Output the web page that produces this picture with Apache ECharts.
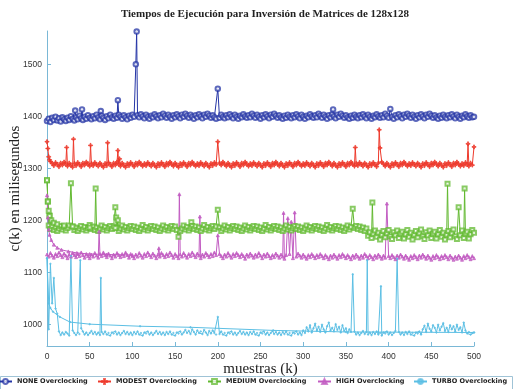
<!DOCTYPE html>
<html>
<head>
<meta charset="utf-8">
<script src="https://cdn.jsdelivr.net/npm/echarts@6/dist/echarts.min.js"></script>
<style>
  html, body { margin: 0; padding: 0; background: #fff; }
  #chart { width: 513px; height: 389px; }
</style>
</head>
<body>
<div id="chart"></div>
<script>
// one value every 2 samples (k = 0, 2, ..., 500), peaks are single extra samples
const STEP = 2
const names = ['NONE Overclocking', 'MODEST Overclocking', 'MEDIUM Overclocking', 'HIGH Overclocking', 'TURBO Overclocking']
const yTicks = [1000, 1100, 1200, 1300, 1400, 1500]

const noneBase = [
  1391, 1395, 1389, 1397, 1393, 1399, 1392, 1396, 1390, 1398,
  1394, 1391, 1397, 1393, 1400, 1395, 1392, 1398, 1394, 1401,
  1396, 1393, 1399, 1395, 1402, 1397, 1394, 1400, 1396, 1403,
  1398, 1394, 1401, 1397, 1393, 1400, 1396, 1403, 1398, 1395,
  1401, 1397, 1403, 1399, 1395, 1402, 1398, 1394, 1401, 1397,
  1403, 1399, 1396, 1402, 1398, 1404, 1400, 1396, 1403, 1399,
  1395, 1401, 1398, 1404, 1400, 1396, 1402, 1398, 1405, 1401,
  1397, 1403, 1399, 1395, 1402, 1398, 1404, 1400, 1396, 1403,
  1399, 1405, 1401, 1397, 1403, 1399, 1395, 1402, 1398, 1404,
  1400, 1396, 1403, 1399, 1405, 1401, 1397, 1402, 1398, 1395,
  1401, 1397, 1403, 1399, 1396, 1402, 1398, 1404, 1400, 1396,
  1403, 1399, 1395, 1401, 1398, 1404, 1400, 1397, 1402, 1398,
  1405, 1401, 1397, 1403, 1399, 1395, 1402, 1398, 1404, 1400,
  1396, 1403, 1399, 1405, 1401, 1397, 1402, 1398, 1395, 1401,
  1397, 1403, 1399, 1396, 1402, 1398, 1404, 1400, 1396, 1403,
  1399, 1395, 1401, 1398, 1404, 1400, 1397, 1402, 1398, 1405,
  1401, 1397, 1403, 1399, 1395, 1402, 1398, 1404, 1400, 1396,
  1403, 1399, 1405, 1401, 1397, 1402, 1398, 1395, 1401, 1397,
  1403, 1399, 1396, 1402, 1398, 1404, 1400, 1396, 1403, 1399,
  1395, 1401, 1398, 1404, 1400, 1397, 1402, 1398, 1405, 1401,
  1397, 1403, 1399, 1395, 1402, 1398, 1404, 1400, 1396, 1403,
  1399, 1405, 1401, 1397, 1403, 1399, 1395, 1402, 1398, 1404,
  1400, 1396, 1403, 1399, 1405, 1401, 1397, 1402, 1398, 1395,
  1401, 1397, 1403, 1399, 1396, 1402, 1398, 1404, 1400, 1396,
  1403, 1399, 1395, 1401, 1398, 1404, 1400, 1397, 1402, 1398,
  1399
]
const nonePeaks = [[33, 1411], [41, 1413], [63, 1410], [83, 1431], [104, 1500], [105, 1563], [200, 1453], [335, 1413], [402, 1414]]

const modestBase = [
  1351, 1322, 1313, 1309, 1305, 1311, 1307, 1303, 1310, 1306,
  1312, 1308, 1304, 1310, 1306, 1302, 1309, 1305, 1311, 1307,
  1303, 1310, 1306, 1312, 1308, 1304, 1309, 1305, 1311, 1307,
  1304, 1310, 1306, 1302, 1309, 1305, 1311, 1307, 1303, 1310,
  1306, 1312, 1308, 1304, 1310, 1306, 1302, 1309, 1305, 1311,
  1307, 1303, 1310, 1306, 1312, 1308, 1304, 1309, 1305, 1311,
  1307, 1304, 1310, 1306, 1302, 1309, 1305, 1311, 1307, 1303,
  1310, 1306, 1312, 1308, 1304, 1310, 1306, 1302, 1309, 1305,
  1311, 1307, 1303, 1310, 1306, 1312, 1308, 1304, 1309, 1305,
  1311, 1307, 1304, 1310, 1306, 1302, 1309, 1305, 1311, 1307,
  1303, 1310, 1306, 1312, 1308, 1304, 1310, 1306, 1302, 1309,
  1305, 1311, 1307, 1303, 1310, 1306, 1312, 1308, 1304, 1309,
  1305, 1311, 1307, 1304, 1310, 1306, 1302, 1309, 1305, 1311,
  1307, 1303, 1310, 1306, 1312, 1308, 1304, 1310, 1306, 1302,
  1309, 1305, 1311, 1307, 1303, 1310, 1306, 1312, 1308, 1304,
  1309, 1305, 1311, 1307, 1304, 1310, 1306, 1302, 1309, 1305,
  1311, 1307, 1303, 1310, 1306, 1312, 1308, 1304, 1310, 1306,
  1302, 1309, 1305, 1311, 1307, 1303, 1310, 1306, 1312, 1308,
  1304, 1309, 1305, 1311, 1307, 1304, 1310, 1306, 1302, 1309,
  1305, 1311, 1307, 1303, 1310, 1306, 1312, 1308, 1304, 1310,
  1306, 1302, 1309, 1305, 1311, 1307, 1303, 1310, 1306, 1312,
  1308, 1304, 1309, 1305, 1311, 1307, 1304, 1310, 1306, 1302,
  1309, 1305, 1311, 1307, 1303, 1310, 1306, 1312, 1308, 1304,
  1310, 1306, 1302, 1309, 1305, 1311, 1307, 1303, 1310, 1306,
  1312, 1308, 1304, 1309, 1305, 1311, 1307, 1304, 1310, 1306,
  1309
]
const modestPeaks = [
  [1, 1338], [3, 1316], [23, 1340], [31, 1356], [51, 1344], [71, 1349], [83, 1334], [85, 1318],
  [200, 1351], [361, 1340], [389, 1374], [390, 1339], [493, 1347], [500, 1341]
]

const mediumBase = [
  1277, 1190, 1183, 1188, 1181, 1186, 1179, 1184, 1189, 1182,
  1187, 1180, 1185, 1190, 1183, 1188, 1181, 1186, 1179, 1184,
  1189, 1182, 1187, 1180, 1185, 1191, 1183, 1188, 1181, 1186,
  1179, 1184, 1190, 1182, 1187, 1180, 1185, 1189, 1183, 1188,
  1181, 1186, 1179, 1184, 1190, 1182, 1187, 1180, 1185, 1189,
  1183, 1188, 1181, 1186, 1179, 1184, 1191, 1182, 1187, 1180,
  1185, 1189, 1183, 1188, 1181, 1186, 1179, 1184, 1190, 1182,
  1187, 1180, 1185, 1189, 1183, 1188, 1181, 1168, 1179, 1184,
  1190, 1182, 1187, 1180, 1185, 1189, 1183, 1188, 1181, 1186,
  1179, 1184, 1191, 1182, 1187, 1180, 1185, 1189, 1183, 1188,
  1181, 1186, 1179, 1184, 1190, 1182, 1187, 1180, 1185, 1189,
  1183, 1188, 1181, 1186, 1179, 1184, 1190, 1182, 1187, 1180,
  1185, 1189, 1183, 1188, 1181, 1186, 1179, 1184, 1191, 1182,
  1187, 1180, 1185, 1189, 1183, 1188, 1181, 1186, 1179, 1184,
  1190, 1182, 1187, 1180, 1185, 1189, 1183, 1188, 1181, 1186,
  1179, 1184, 1190, 1182, 1187, 1180, 1185, 1189, 1183, 1188,
  1181, 1186, 1179, 1184, 1191, 1182, 1187, 1180, 1185, 1189,
  1183, 1188, 1181, 1186, 1179, 1184, 1190, 1182, 1187, 1180,
  1185, 1189, 1183, 1188, 1181, 1186, 1179, 1184, 1170, 1177,
  1166, 1174, 1180, 1168, 1176, 1163, 1172, 1179, 1167, 1175,
  1181, 1169, 1164, 1177, 1171, 1180, 1166, 1174, 1178, 1165,
  1173, 1181, 1168, 1176, 1163, 1172, 1179, 1167, 1175, 1182,
  1169, 1164, 1177, 1171, 1180, 1166, 1174, 1178, 1165, 1173,
  1181, 1168, 1176, 1163, 1172, 1179, 1167, 1175, 1182, 1169,
  1164, 1177, 1171, 1180, 1166, 1174, 1178, 1165, 1173, 1181,
  1176
]
const mediumPeaks = [
  [1, 1236], [3, 1209], [28, 1271], [57, 1261], [80, 1225], [81, 1205], [83, 1200], [169, 1196],
  [200, 1220], [358, 1222], [381, 1234], [469, 1270], [482, 1225], [489, 1261]
]
const mediumTrend = [[0, 1277], [1, 1236], [2, 1218], [3, 1208], [5, 1200], [8, 1195], [12, 1192], [20, 1190], [30, 1188], [50, 1186], [80, 1185]]

const highBase = [
  1134, 1130, 1137, 1132, 1128, 1135, 1131, 1138, 1133, 1129,
  1136, 1132, 1127, 1134, 1130, 1137, 1133, 1129, 1135, 1131,
  1138, 1133, 1128, 1135, 1131, 1127, 1134, 1130, 1137, 1132,
  1128, 1135, 1131, 1138, 1133, 1129, 1136, 1132, 1127, 1134,
  1130, 1137, 1133, 1129, 1135, 1131, 1138, 1133, 1128, 1135,
  1131, 1127, 1134, 1130, 1137, 1132, 1128, 1135, 1131, 1138,
  1133, 1129, 1136, 1132, 1127, 1134, 1130, 1137, 1133, 1129,
  1135, 1131, 1138, 1133, 1128, 1135, 1131, 1127, 1134, 1130,
  1137, 1132, 1128, 1135, 1131, 1138, 1133, 1129, 1136, 1132,
  1127, 1134, 1130, 1137, 1133, 1129, 1135, 1131, 1138, 1133,
  1128, 1135, 1131, 1127, 1134, 1130, 1137, 1132, 1128, 1135,
  1131, 1137, 1133, 1129, 1135, 1131, 1126, 1134, 1130, 1136,
  1132, 1128, 1134, 1130, 1137, 1132, 1127, 1134, 1130, 1136,
  1131, 1127, 1133, 1129, 1136, 1132, 1128, 1134, 1130, 1126,
  1133, 1129, 1135, 1131, 1127, 1134, 1130, 1136, 1132, 1128,
  1134, 1130, 1126, 1133, 1129, 1135, 1131, 1127, 1133, 1129,
  1135, 1131, 1127, 1133, 1129, 1125, 1132, 1128, 1134, 1130,
  1126, 1133, 1129, 1135, 1131, 1127, 1133, 1129, 1125, 1132,
  1128, 1134, 1130, 1126, 1132, 1128, 1135, 1131, 1127, 1133,
  1129, 1125, 1132, 1128, 1134, 1130, 1126, 1132, 1128, 1135,
  1131, 1127, 1133, 1129, 1125, 1132, 1128, 1134, 1130, 1126,
  1132, 1128, 1124, 1131, 1127, 1133, 1129, 1125, 1132, 1128,
  1134, 1130, 1126, 1132, 1128, 1124, 1131, 1127, 1133, 1129,
  1125, 1131, 1127, 1133, 1129, 1125, 1132, 1128, 1124, 1130,
  1126, 1132, 1128, 1124, 1131, 1127, 1133, 1129, 1125, 1131,
  1127
]
const highPeaks = [
  [61, 1178], [131, 1146], [155, 1250], [179, 1207], [200, 1171],
  [277, 1214], [282, 1204], [286, 1197], [290, 1215], [398, 1232]
]
const highTrend = [[0, 1248], [1, 1205], [2, 1182], [3, 1172], [5, 1162], [8, 1153], [12, 1147], [17, 1143], [25, 1140], [35, 1137], [50, 1135], [70, 1134], [100, 1133]]

const turboBase = [
  1127, 990, 1116, 1040, 1089, 1030, 1020, 986, 979, 984,
  980, 985, 982, 978, 1004, 988, 983, 979, 984, 981,
  992, 986, 980, 984, 979, 983, 987, 981, 985, 980,
  984, 979, 985, 981, 986, 980, 983, 978, 984, 982,
  986, 980, 984, 979, 983, 987, 981, 985, 980, 984,
  979, 985, 981, 986, 980, 983, 978, 984, 982, 986,
  980, 984, 979, 983, 987, 981, 985, 980, 984, 979,
  985, 981, 986, 980, 983, 978, 984, 982, 986, 980,
  984, 989, 983, 987, 981, 990, 985, 980, 988, 983,
  986, 981, 989, 984, 979, 987, 982, 988, 983, 980,
  985, 981, 986, 980, 983, 978, 984, 982, 986, 980,
  984, 979, 983, 987, 981, 985, 980, 984, 979, 985,
  981, 986, 980, 983, 978, 984, 982, 986, 980, 984,
  979, 983, 987, 981, 985, 980, 984, 979, 985, 981,
  986, 980, 983, 978, 984, 982, 986, 980, 984, 979,
  988, 983, 994, 986, 998, 984, 992, 1001, 987, 995,
  985, 999, 990, 984, 996, 1003, 988, 993, 986, 1000,
  989, 995, 984, 998, 987, 992, 983, 990, 985, 981,
  986, 980, 984, 979, 983, 987, 981, 985, 980, 984,
  979, 985, 981, 986, 980, 983, 978, 984, 982, 986,
  980, 984, 979, 983, 987, 981, 985, 980, 984, 979,
  985, 981, 986, 980, 983, 978, 984, 982, 986, 980,
  990, 997, 985, 1001, 991, 986, 998, 993, 984, 999,
  988, 995, 1002, 987, 993, 985, 998, 990, 996, 986,
  999, 989, 994, 984, 1003, 988, 982, 985, 980, 983,
  984
]
const turboPeaks = [[28, 1131], [39, 1123], [63, 1089], [200, 1014], [358, 1096], [375, 1123], [391, 1073], [410, 1126]]
const turboTrend = [[0, 1127], [2, 1040], [4, 1031], [7, 1024], [15, 1014], [27, 1004], [50, 1000], [109, 996], [168, 994], [265, 988], [350, 985], [500, 984]]

function build(base, peaks) {
  const ks = new Set(peaks.map(p => p[0]))
  const pts = base.map((v, i) => [i * STEP, v]).filter(p => !ks.has(p[0]))
  return pts.concat(peaks).sort((a, b) => a[0] - b[0])
}

const styles = [
  { color: '#2535a6', symbol: 'emptyCircle', size: 4.5 },
  { color: '#ee3a2c', symbol: 'path://M4,0H6V4H10V6H6V10H4V6H0V4H4Z', size: 4 },
  { color: '#62b930', symbol: 'emptyRect', size: 4 },
  { color: '#c25cc2', symbol: 'triangle', size: 3 },
  { color: '#5cbfe4', symbol: 'circle', size: 1.5 }
]

function mk(i, data) {
  const s = styles[i]
  return {
    name: names[i],
    type: 'line',
    data: data,
    symbol: s.symbol,
    symbolSize: s.size,
    showAllSymbol: true,
    color: s.color,
    lineStyle: { width: 1, color: s.color },
    itemStyle: { color: s.color, borderColor: s.color, borderWidth: 1, opacity: 0.75 },
    emphasis: { disabled: true }
  }
}

// legend item starts
const legendLeft = [-2, 97, 207, 317, 413]

const chart = echarts.init(document.getElementById('chart'))
chart.setOption({
  backgroundColor: '#fff',
  animation: false,
  title: {
    text: 'Tiempos de Ejecución para Inversión de Matrices de 128x128',
    left: 260,
    top: 4,
    textAlign: 'center',
    textStyle: { fontFamily: 'Liberation Serif', fontWeight: 'bold', fontSize: 11, color: '#222' }
  },
  legend: names.map((n, i) => ({
    data: [n],
    left: legendLeft[i],
    top: 378,
    padding: 0,
    itemWidth: 13,
    itemHeight: 6,
    textStyle: { fontFamily: 'DejaVu Sans', fontWeight: 'bold', fontSize: 6.5, color: '#222' }
  })),
  graphic: [{
    type: 'rect',
    shape: { x: 0.5, y: 376.5, width: 512, height: 14 },
    style: { fill: 'none', stroke: '#9fc3d6', lineWidth: 1 },
    silent: true
  }],
  grid: { left: 47, right: 39, top: 31, bottom: 43, containLabel: false, outerBoundsMode: 'none' },
  xAxis: {
    type: 'value',
    min: 0,
    max: 500,
    interval: 50,
    name: 'muestras (k)',
    nameLocation: 'middle',
    nameGap: 16,
    nameMoveOverlap: false,
    nameTextStyle: { fontFamily: 'Liberation Serif', fontSize: 15, color: '#222', verticalAlign: 'top' },
    axisLine: { lineStyle: { color: '#7ab8d6' } },
    axisTick: { inside: true, length: 4, lineStyle: { color: '#7ab8d6' } },
    axisLabel: { fontSize: 8.5, color: '#333', margin: 6 },
    splitLine: { show: false }
  },
  yAxis: {
    type: 'value',
    min: 958,
    max: 1564,
    name: 'c(k) en milisegundos',
    nameLocation: 'middle',
    nameGap: 24,
    nameMoveOverlap: false,
    nameTextStyle: { fontFamily: 'Liberation Serif', fontSize: 15, color: '#222' },
    axisLine: { show: true, lineStyle: { color: '#7ab8d6' } },
    axisTick: { inside: true, length: 4, customValues: yTicks, lineStyle: { color: '#7ab8d6' } },
    axisLabel: { fontSize: 8.5, color: '#333', margin: 5, customValues: yTicks, formatter: v => String(v) },
    splitLine: { show: false }
  },
  series: [
    mk(0, build(noneBase, nonePeaks)),
    mk(1, build(modestBase, modestPeaks)),
    mk(2, build(mediumBase, mediumPeaks)),
    mk(2, mediumTrend),
    mk(3, build(highBase, highPeaks)),
    mk(3, highTrend),
    mk(4, build(turboBase, turboPeaks)),
    mk(4, turboTrend)
  ]
})
</script>
</body>
</html>
